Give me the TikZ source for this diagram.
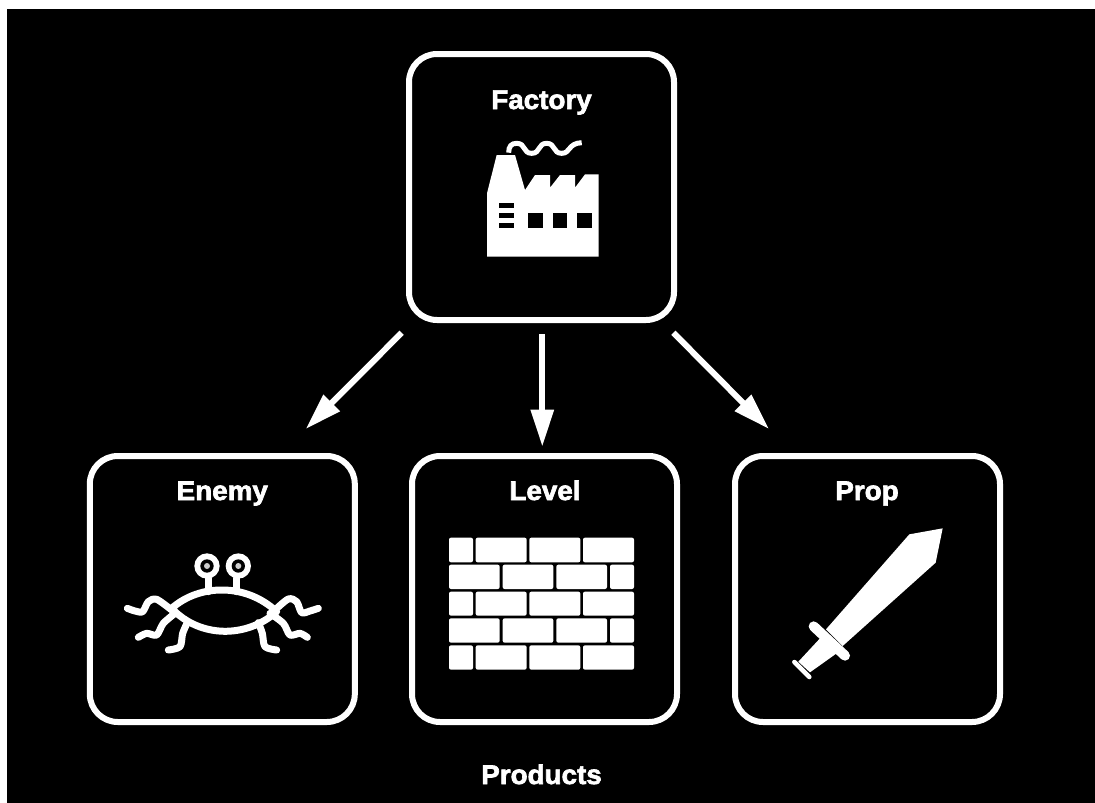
\documentclass[tikz,border=0pt]{standalone}
\usepackage{fontspec}
\usetikzlibrary{arrows.meta}
\newfontfamily\labfont{Liberation Sans}[UprightFont=* Bold,FakeStretch=1.03,FakeBold=2.4]
\tikzset{
  card/.style={draw=white,line width=6pt,rounded corners=28pt,minimum width=265pt,minimum height=266pt,inner sep=0pt,outer sep=0pt},
  title/.style={text=white,anchor=base,inner sep=0pt,font=\labfont\fontsize{27pt}{30pt}\selectfont},
  flow/.style={draw=white,line width=6pt,-{Triangle[length=37pt,width=22pt,fill=white]}},
  iconline/.style={draw=white,line width=7pt,line cap=round,line join=round},
  brick/.style={fill=white,rounded corners=2pt},
}
\newcommand{\brickat}[4]{\fill[brick] (#1,#3) rectangle (#2,#4);}
\begin{document}
\begin{tikzpicture}[x=1pt,y=-1pt]
\useasboundingbox (0,0) rectangle (1095,803);
\fill[white] (0,0) rectangle (1095,803);
\fill[black] (7,9) rectangle (1095,803);
% cards
\node[card] (factory) at (541.5,187) {};
\node[card] (enemy) at (222.3,589) {};
\node[card] (level) at (544.5,589) {};
\node[card] (prop) at (867.5,589) {};
% titles
\node[title] (tfactory) at (541.5,109) {Factory};
\node[title] (tenemy) at (222.3,500) {Enemy};
\node[title] (tlevel) at (545,500) {Level};
\node[title] (tprop) at (867,500) {Prop};
\node[title] (tproducts) at (541.5,784) {Products};
% connectors
\draw[flow,shorten <=18pt,shorten >=38pt] ([xshift=-127.1pt]factory.south) -- ([xshift=56.5pt]enemy.north);
\draw[flow,shorten <=14pt,shorten >=9.3pt] ([xshift=0.8pt]factory.south) -- ([xshift=-2.2pt]level.north);
\draw[flow,shorten <=18pt,shorten >=38pt] ([xshift=119.2pt]factory.south) -- ([xshift=-71.7pt]prop.north);
% factory icon
\begin{scope}[shift={(400,40)},x=0.33333pt,y=-0.33333pt]
\fill[white] (261,650) -- (261,460) -- (290,345) -- (345,345) -- (375,450) -- (405,405) -- (450,405) -- (450,443) -- (480,405) -- (525,405) -- (525,443) -- (555,403) -- (596,403) -- (596,650) -- cycle;
\fill[black] (385,518) rectangle (430,563);
\fill[black] (458,518) rectangle (502,563);
\fill[black] (531,518) rectangle (575,563);
\fill[black] (297,490) rectangle (341,503);
\fill[black] (297,520) rectangle (341,533);
\fill[black] (297,550) rectangle (341,563);
\draw[white,line width=5pt] (326,338) .. controls (326,318) and (335,310) .. (350,310) .. controls (378,310) and (368,340) .. (395,340) .. controls (422,340) and (413,310) .. (440,310) .. controls (467,310) and (458,340) .. (485,340) .. controls (512,340) and (503,310) .. (545,308);
\end{scope}
% enemy icon
\begin{scope}[shift={(100,500)},x=0.33333pt,y=-0.33333pt]
\draw[iconline] (215,325) .. controls (300,250) and (440,250) .. (530,335) .. controls (440,415) and (300,415) .. (215,325);
\draw[iconline] (325,235) -- (325,275);
\draw[iconline] (410,235) -- (410,275);
\fill[white] (321,198) circle[radius=38];
\fill[white] (415,198) circle[radius=38];
\fill[black] (321,198) circle[radius=20];
\fill[black] (415,198) circle[radius=20];
\fill[white!80!black] (321,198) circle[radius=9];
\fill[white!80!black] (415,198) circle[radius=9];
\draw[iconline] plot[smooth] coordinates {(82,325)(105,333)(128,335)(145,305)(170,298)(215,330)};
\draw[iconline] plot[smooth] coordinates {(115,412)(140,400)(170,405)(190,370)(225,340)};
\draw[iconline] plot[smooth] coordinates {(205,450)(240,440)(248,400)(262,368)};
\draw[iconline] plot[smooth] coordinates {(655,325)(630,333)(605,338)(590,305)(565,297)(525,330)};
\draw[iconline] plot[smooth] coordinates {(622,412)(600,400)(570,405)(550,370)(510,340)};
\draw[iconline] plot[smooth] coordinates {(530,450)(495,440)(487,400)(475,368)};
\end{scope}
% level icon
\begin{scope}[shift={(430,520)},x=0.33333pt,y=-0.33333pt]
\foreach \ya/\yb in {53/127,215/287,376/449}{
  \foreach \xa/\xb in {57/129,137/290,298/451,459/612}{\brickat{\xa}{\xb}{\ya}{\yb}}
}
\foreach \ya/\yb in {134/207,295/368}{
  \foreach \xa/\xb in {57/209,218/370,379/531,540/612}{\brickat{\xa}{\xb}{\ya}{\yb}}
}
\end{scope}
% prop icon
\begin{scope}[shift={(770,510)},x=0.33333pt,y=-0.33333pt]
\fill[white] (518,55) -- (418,73) -- (168,358) -- (218,408) -- (497,158) -- cycle;
\draw[white,line width=10pt,line cap=round] (131,349) -- (225,437);
\fill[white] (150,385) -- (200,430) -- (120,487) -- (85,455) -- cycle;
\draw[white,line width=4.5pt,line cap=round] (73,456) -- (118,501);
\end{scope}
\end{tikzpicture}
\end{document}
